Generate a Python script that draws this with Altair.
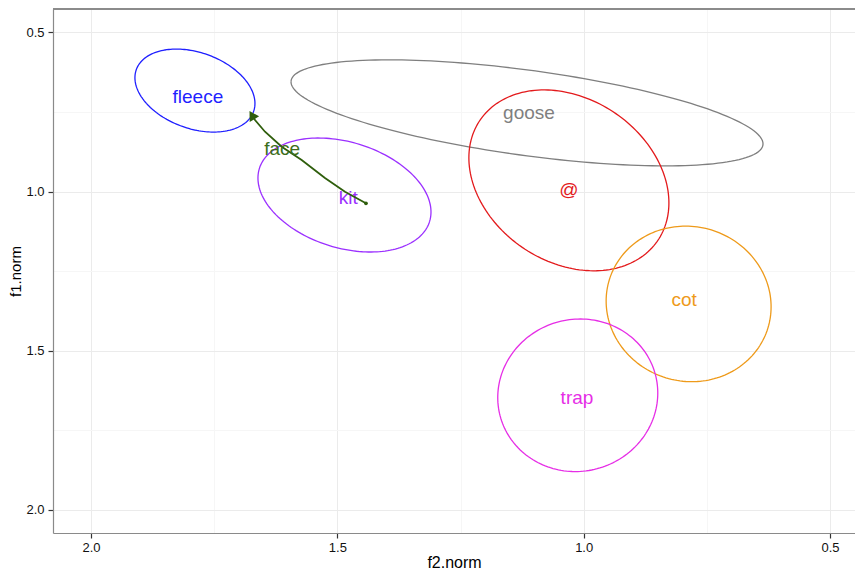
import numpy as np
import pandas as pd
import altair as alt

# ---- data ----
vowels = ["fleece", "goose", "@", "kit", "cot", "trap"]
colors = ["#1F1FFF", "#7F7F7F", "#E31A1C", "#9B30FF", "#EE9A1A", "#E62EE6"]

# ellipse centres, half-ranges and correlation (f2.norm, f1.norm)
ell_f2 = [1.789, 1.115, 1.030, 1.4855, 0.787, 1.012]
ell_f1 = [0.683, 0.753, 0.965, 1.011, 1.353, 1.640]
ell_rng_f2 = [0.1218, 0.479, 0.203, 0.1756, 0.1674, 0.1624]
ell_rng_f1 = [0.1303, 0.1665, 0.284, 0.179, 0.2443, 0.2396]
ell_r = [-0.31, -0.585, -0.249, -0.298, -0.037, 0.03]

# label positions
label_f2 = [1.783, 1.111, 1.030, 1.478, 0.796, 1.0136]
label_f1 = [0.703, 0.754, 0.995, 1.020, 1.341, 1.6486]

# "face" trajectory
face_f2 = [1.4419, 1.4845, 1.5251, 1.5724, 1.6129, 1.6468, 1.6671, 1.6733]
face_f1 = [1.0371, 1.0006, 0.9576, 0.9011, 0.8593, 0.8122, 0.7754, 0.7600]
face_label_f2 = [1.612]
face_label_f1 = [0.8665]

x_ticks = [0.5, 0.75, 1.0, 1.25, 1.5, 1.75, 2.0]
y_ticks = [0.5, 0.75, 1.0, 1.25, 1.5, 1.75, 2.0]

# ---- build tables ----
t = np.linspace(0, 2 * np.pi, 181)
rows = []
for v, cx, cy, sx, sy, r in zip(vowels, ell_f2, ell_f1, ell_rng_f2, ell_rng_f1, ell_r):
    xs = cx + sx * np.cos(t)
    ys = cy + sy * (r * np.cos(t) + np.sqrt(1 - r * r) * np.sin(t))
    for i, (a, b) in enumerate(zip(xs, ys)):
        rows.append({"vowel": v, "i": i, "f2": a, "f1": b})
ell_df = pd.DataFrame(rows)
lab_df = pd.DataFrame({"vowel": vowels, "f2": label_f2, "f1": label_f1})
face_df = pd.DataFrame({"i": range(len(face_f2)), "f2": face_f2, "f1": face_f1})
face_lab_df = pd.DataFrame({"label": ["face"], "f2": face_label_f2, "f1": face_label_f1})

FONT = "Liberation Sans"
MAJ = "abs(datum.value * 2 - round(datum.value * 2)) < 0.01"
GREEN = "#2F5E0C"

color_scale = alt.Scale(domain=vowels, range=colors)

x_enc = alt.X(
    "f2:Q",
    scale=alt.Scale(domain=[0.4493, 2.0771], reverse=True, nice=False, zero=False),
    axis=alt.Axis(
        title="f2.norm", values=x_ticks,
        labelExpr=f"{MAJ} ? format(datum.value, '.1f') : ''",
        gridColor={"condition": {"test": MAJ, "value": "#EBEBEB"}, "value": "#F6F6F6"},
        tickOpacity={"condition": {"test": MAJ, "value": 1}, "value": 0},
        tickColor="#333333", tickSize=5, tickWidth=1.2,
        domainColor="#8A8A8A", domainWidth=1.2,
        labelFont=FONT, labelFontSize=13, labelColor="#111111", labelPadding=3,
        titleFont=FONT, titleFontSize=16, titleFontWeight="normal", titleColor="#000000",
        titlePadding=0, labelFlush=False,
    ),
)
y_enc = alt.Y(
    "f1:Q",
    scale=alt.Scale(domain=[0.4268, 2.0725], reverse=True, nice=False, zero=False),
    axis=alt.Axis(
        title="f1.norm", values=y_ticks,
        labelExpr=f"{MAJ} ? format(datum.value, '.1f') : ''",
        gridColor={"condition": {"test": MAJ, "value": "#EBEBEB"}, "value": "#F6F6F6"},
        tickOpacity={"condition": {"test": MAJ, "value": 1}, "value": 0},
        tickColor="#333333", tickSize=5, tickWidth=1.2,
        domainColor="#8A8A8A", domainWidth=1.2,
        labelFont=FONT, labelFontSize=13, labelColor="#111111", labelPadding=4,
        titleFont=FONT, titleFontSize=15, titleFontWeight="normal", titleColor="#000000",
        titlePadding=2, labelFlush=False,
    ),
)

ellipses = alt.Chart(ell_df).mark_line(strokeWidth=1.3, clip=True).encode(
    x=x_enc, y=y_enc,
    color=alt.Color("vowel:N", scale=color_scale, legend=None),
    detail="vowel:N",
    order="i:Q",
)

labels = alt.Chart(lab_df).mark_text(font=FONT, fontSize=19).encode(
    x="f2:Q", y="f1:Q", text="vowel:N",
    color=alt.Color("vowel:N", scale=color_scale, legend=None),
)

face_line = alt.Chart(face_df).mark_line(color=GREEN, strokeWidth=1.8).encode(
    x="f2:Q", y="f1:Q", order="i:Q"
)
face_start = alt.Chart(face_df).transform_filter("datum.i == 0").mark_circle(
    color=GREEN, size=14, opacity=1
).encode(x="f2:Q", y="f1:Q")
face_head = alt.Chart(face_df).transform_filter(f"datum.i == {len(face_f2) - 1}").mark_point(
    shape="triangle-up", filled=True, color=GREEN, size=120, angle=329, opacity=1
).encode(x="f2:Q", y="f1:Q")
face_label = alt.Chart(face_lab_df).mark_text(font=FONT, fontSize=19, color="#3C6E1A").encode(
    x="f2:Q", y="f1:Q", text="label:N"
)

top_border = alt.Chart(lab_df).mark_rule(color="#8A8A8A", strokeWidth=1.2).encode(
    y=alt.value(0)
)

chart = alt.layer(
    ellipses, labels, face_line, face_start, face_head, face_label, top_border
).properties(
    width=802, height=524,
    padding={"left": 45, "top": 1, "right": 0, "bottom": 40},
    autosize="none",
    background="white",
).configure_view(stroke=None)

chart.save("out.html", embed_options={"renderer": "svg", "actions": False})
